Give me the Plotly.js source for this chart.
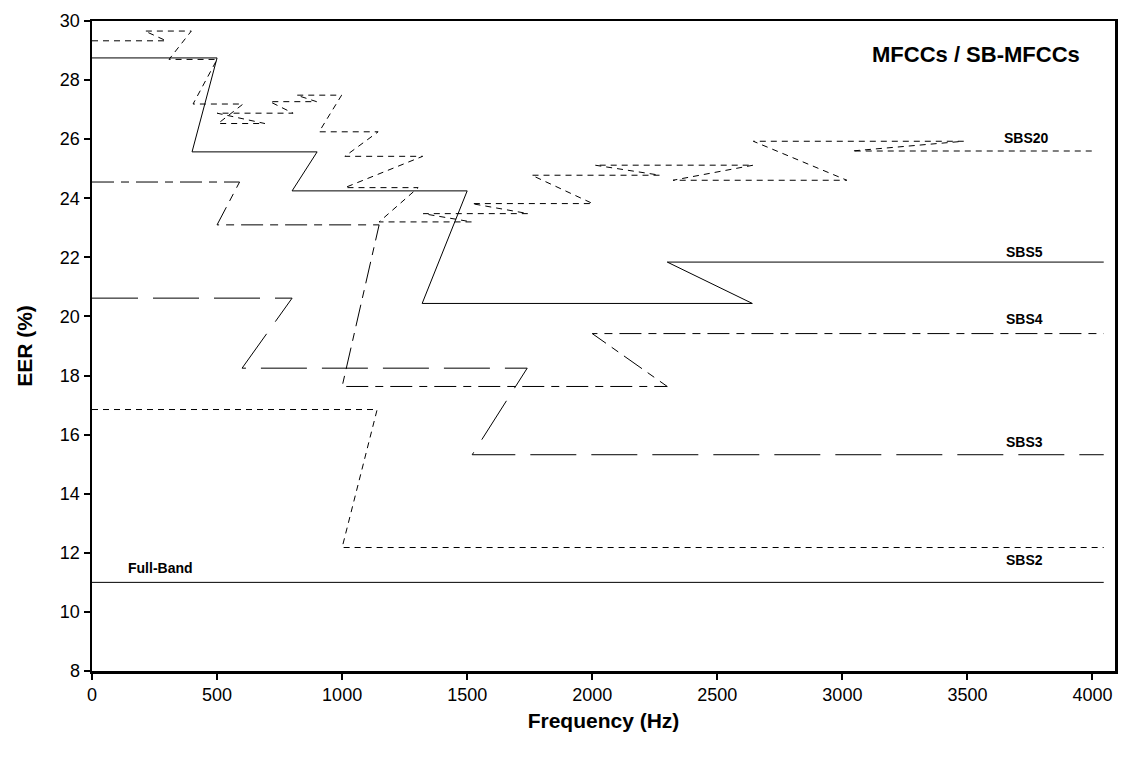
<!DOCTYPE html>
<html>
<head>
<meta charset="utf-8">
<script src="https://cdn.plot.ly/plotly-3.0.1.min.js"></script>
<style>html,body{margin:0;padding:0;background:#fff;}#chart{width:1125px;height:761px;}</style>
</head>
<body>
<div id="chart"></div>
<script>
// Sub-band start / end frequencies (Hz) and EER (%) per configuration
const fullStarts = [0];
const fullEnds = [4045];
const fullEER = [11.0];

const sbs2Starts = [0, 1000];
const sbs2Ends = [1140, 4045];
const sbs2EER = [16.85, 12.18];

const sbs3Starts = [0, 600, 1520];
const sbs3Ends = [800, 1740, 4045];
const sbs3EER = [20.62, 18.25, 15.32];

const sbs4Starts = [0, 500, 1000, 2000];
const sbs4Ends = [590, 1148, 2300, 4045];
const sbs4EER = [24.55, 23.1, 17.63, 19.42];

const sbs5Starts = [0, 400, 800, 1320, 2300];
const sbs5Ends = [500, 900, 1500, 2640, 4045];
const sbs5EER = [28.75, 25.57, 24.25, 20.44, 21.84];

const sbs20Starts = [0, 211, 308, 404, 504, 500, 711, 818, 908, 1011, 1011, 1148, 1324, 1518, 1758, 2011, 2323, 2644, 3038];
const sbs20Ends   = [297, 397, 500, 604, 691, 804, 898, 998, 1144, 1322, 1304, 1518, 1744, 2002, 2271, 2644, 3018, 3485, 4000];
const sbs20EER    = [29.33, 29.66, 28.70, 27.19, 26.53, 26.88, 27.27, 27.49, 26.25, 25.42, 24.36, 23.2, 23.48, 23.82, 24.78, 25.12, 24.61, 25.93, 25.60];

const seriesNames = ["Full-Band", "SBS2", "SBS3", "SBS4", "SBS5", "SBS20"];
const labelX = [135, 3645, 3645, 3645, 3645, 3639];
const labelY = [11.5, 11.76, 15.76, 19.9, 22.17, 26.03];

function bandPath(starts, ends, eer) {
  const x = [], y = [];
  for (let i = 0; i < starts.length; i++) {
    x.push(starts[i], ends[i]);
    y.push(eer[i], eer[i]);
  }
  return {x, y};
}

const defs = [
  [fullStarts, fullEnds, fullEER, 'solid', 1],
  [sbs2Starts, sbs2Ends, sbs2EER, '6px,5px', 1],
  [sbs3Starts, sbs3Ends, sbs3EER, '46px,15px', 1],
  [sbs4Starts, sbs4Ends, sbs4EER, '22px,7px,8px,7px', 1],
  [sbs5Starts, sbs5Ends, sbs5EER, 'solid', 1],
  [sbs20Starts, sbs20Ends, sbs20EER, '6px,5px', 1]
];

const traces = defs.map((d, i) => {
  const p = bandPath(d[0], d[1], d[2]);
  return {
    x: p.x, y: p.y, type: 'scatter', mode: 'lines', name: seriesNames[i],
    line: {color: '#000', width: d[4], dash: d[3]},
    hoverinfo: 'skip'
  };
});

const font = 'Liberation Sans, Arial, sans-serif';
const annotations = seriesNames.map((n, i) => ({
  x: labelX[i], y: labelY[i], xref: 'x', yref: 'y', text: '<b>' + n + '</b>',
  showarrow: false, xanchor: 'left', yanchor: 'middle',
  font: {family: font, size: 14, color: '#000'}
}));
annotations.push({
  x: 3959, y: 28.85, xref: 'x', yref: 'y', text: '<b>MFCCs / SB-MFCCs</b>',
  showarrow: false, xanchor: 'right', yanchor: 'middle',
  font: {family: font, size: 22, color: '#000'}
});

const layout = {
  width: 1125, height: 761,
  margin: {l: 92, r: 10, t: 21, b: 90},
  paper_bgcolor: '#fff', plot_bgcolor: '#fff',
  showlegend: false,
  font: {family: font, color: '#000'},
  xaxis: {
    range: [0, 4090], dtick: 500, tick0: 0,
    showline: true, mirror: true, linewidth: 2.5, linecolor: '#000',
    ticks: 'outside', ticklen: 6, tickwidth: 2, tickcolor: '#000',
    showgrid: false, zeroline: false,
    tickfont: {family: font, size: 18},
    title: {text: '<b>Frequency (Hz)</b>', font: {family: font, size: 21}, standoff: 9}
  },
  yaxis: {
    range: [8, 30], dtick: 2, tick0: 8,
    showline: true, mirror: true, linewidth: 2.5, linecolor: '#000',
    ticks: 'outside', ticklen: 6, tickwidth: 2, tickcolor: '#000',
    showgrid: false, zeroline: false,
    tickfont: {family: font, size: 18},
    title: {text: '<b>EER (%)</b>', font: {family: font, size: 21}, standoff: 22}
  },
  annotations: annotations
};

Plotly.newPlot('chart', traces, layout, {displayModeBar: false, staticPlot: true});
</script>
</body>
</html>
